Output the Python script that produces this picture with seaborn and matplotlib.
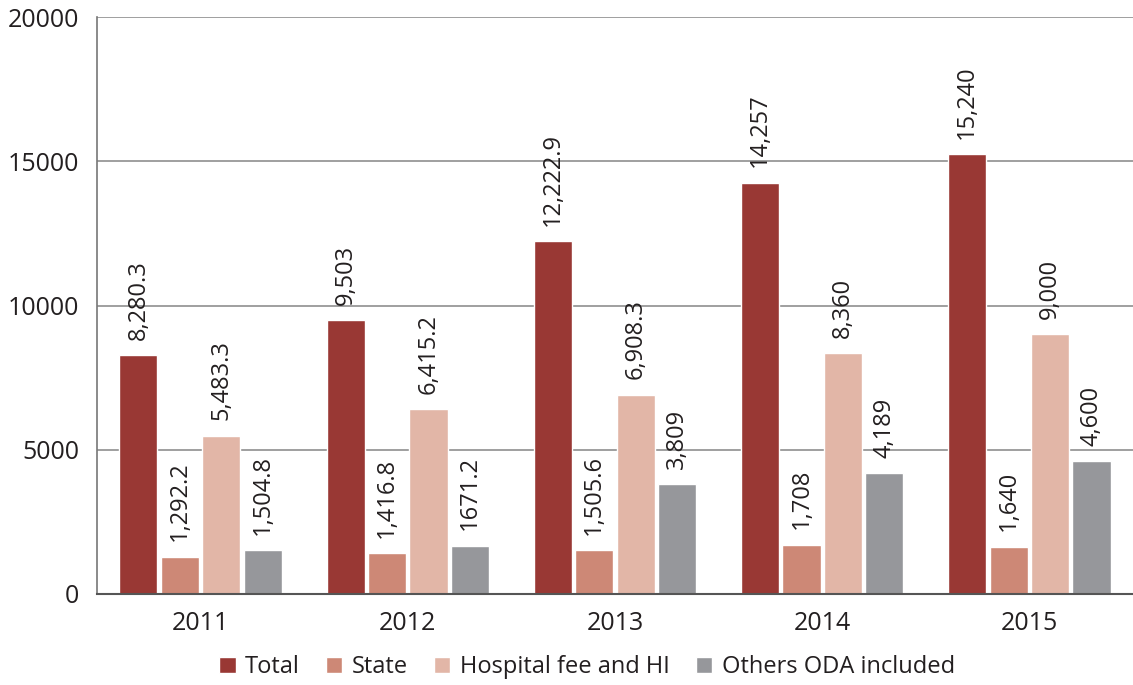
import pandas as pd
import numpy as np
import matplotlib
matplotlib.use("Agg")
import matplotlib.pyplot as plt
import seaborn as sns

years = ["2011", "2012", "2013", "2014", "2015"]
series = ["Total", "State", "Hospital fee and HI", "Others ODA included"]
total = [8280.3, 9503, 12222.9, 14257, 15240]
state = [1292.2, 1416.8, 1505.6, 1708, 1640]
hospital = [5483.3, 6415.2, 6908.3, 8360, 9000]
others = [1504.8, 1671.2, 3809, 4189, 4600]
# labels as printed in the source (formatting is not consistent there)
total_lbl = ["8,280.3", "9,503", "12,222.9", "14,257", "15,240"]
state_lbl = ["1,292.2", "1,416.8", "1,505.6", "1,708", "1,640"]
hospital_lbl = ["5,483.3", "6,415.2", "6,908.3", "8,360", "9,000"]
others_lbl = ["1,504.8", "1671.2", "3,809", "4,189", "4,600"]
colors = ["#993834", "#cd8876", "#e2b6a7", "#96979b"]

df = pd.DataFrame({
    "year": years * 4,
    "series": np.repeat(series, len(years)),
    "value": total + state + hospital + others,
})
labels = [total_lbl, state_lbl, hospital_lbl, others_lbl]

sns.set_style("white")
plt.rcParams["font.family"] = ["Open Sans", "DejaVu Sans"]

fig = plt.figure(figsize=(11.33, 6.85), dpi=100)
ax = fig.add_axes([0.0856, 0.133, 0.9144, 0.842])

sns.barplot(data=df, x="year", y="value", hue="series", hue_order=series,
            order=years, palette=colors, width=0.8, gap=0.08, saturation=1,
            ax=ax, legend=True)

for cont, lbl in zip(ax.containers, labels):
    ax.bar_label(cont, labels=lbl, rotation=90, padding=11, fontsize=17,
                 color="#231f20")

ax.set_ylim(0, 20000)
ax.set_xlim(-0.5, 4.5)
ax.set_yticks([0, 5000, 10000, 15000, 20000])
ax.set_yticklabels(["0", "5000", "10000", "15000", "20000"])
ax.yaxis.grid(True, color="#8f8f8f", linewidth=1.2)
ax.set_axisbelow(True)
ax.set_xlabel("")
ax.set_ylabel("")
ax.tick_params(axis="y", length=0, labelsize=18, pad=13, labelcolor="#231f20")
ax.tick_params(axis="x", length=0, labelsize=18, pad=12, labelcolor="#231f20")
ax.set_xticks([0.5, 1.5, 2.5, 3.5], minor=True)
ax.tick_params(axis="x", which="minor", direction="in", length=14,
               width=1.2, color="#666666")

for s in ["top", "right"]:
    ax.spines[s].set_visible(False)
ax.spines["left"].set_color("#777777")
ax.spines["left"].set_linewidth(1.2)
ax.spines["bottom"].set_color("#555555")
ax.spines["bottom"].set_linewidth(1.5)

handles, lbls = ax.get_legend_handles_labels()
ax.get_legend().remove()
fig.legend(handles, lbls, loc="lower center", bbox_to_anchor=(0.518, -0.012),
           ncol=4, frameon=False, fontsize=17, handlelength=0.7,
           handleheight=0.7, handletextpad=0.4, columnspacing=1.1,
           labelcolor="#231f20", borderaxespad=0.2)

fig.savefig("out.png", dpi=100)
